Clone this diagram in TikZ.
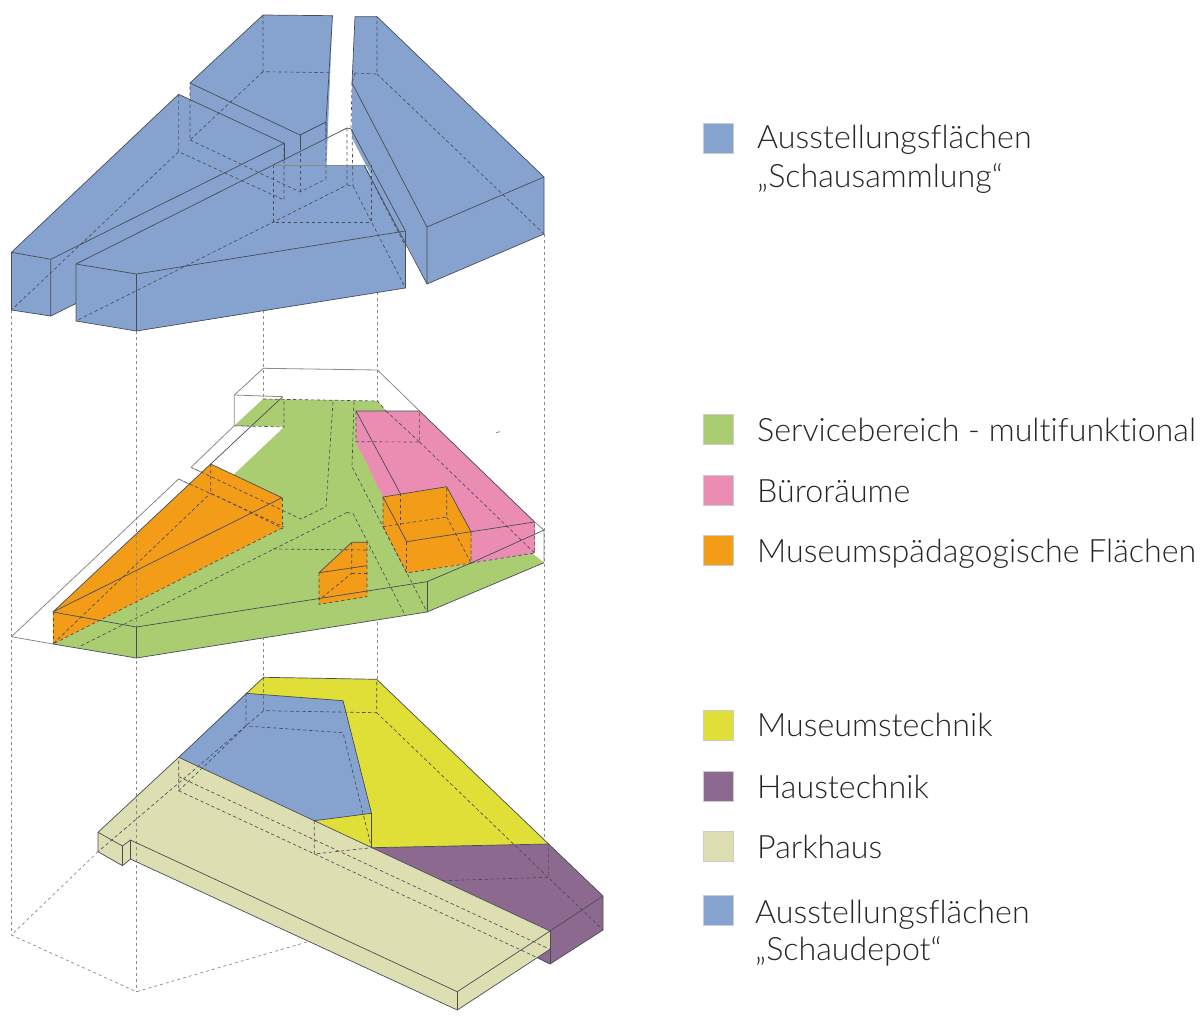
\documentclass[tikz,border=0pt]{standalone}
\usepackage{fontspec}
\setmainfont{Lato}[UprightFont=* Light,Ligatures=NoCommon]
\definecolor{cblue}{HTML}{86A3CF}
\definecolor{cgreen}{HTML}{ABCD72}
\definecolor{cpink}{HTML}{EB8DB3}
\definecolor{corange}{HTML}{F39C18}
\definecolor{cyellow}{HTML}{E0DF37}
\definecolor{cpurple}{HTML}{8C6A90}
\definecolor{cpark}{HTML}{DDDFB3}
\definecolor{cline}{HTML}{484C56}
\definecolor{cgrey}{HTML}{8A8A8A}
\tikzset{
 edgeline/.style={draw=cline,line width=0.7pt,line join=round},
 thinline/.style={draw=cgrey,line width=0.8pt,line join=round},
 hidden/.style={draw=cline,line width=0.65pt,dash pattern=on 3.4pt off 2.6pt},
 guide/.style={draw=cgrey,line width=0.7pt,dash pattern=on 3pt off 3pt},
 swatch/.style={minimum width=30pt,minimum height=30pt,inner sep=0pt,anchor=north west,draw=black!20,line width=0.3pt},
 legendtext/.style={anchor=base west,inner sep=0pt,font=\fontsize{32.2pt}{38pt}\selectfont,text=black!85}
}
\begin{document}
\begin{tikzpicture}[x=1pt,y=-1pt]
\useasboundingbox (0,0) rectangle (1200,1020);
% ---------- guides
\draw[guide] (11.4,310) -- (11.4,935);
\draw[guide] (263,310) -- (263,399) (263,637) -- (263,677);
\draw[guide] (377.5,292) -- (377.5,401) (377.5,610) -- (377.5,679);
\draw[guide] (544,234) -- (544,844);
% ---------- bottom level
\fill[cyellow] (263.6,677.3) -- (376.7,679.3) -- (548.6,844) -- (371.5,847.7) -- (314.2,820.7) -- (246,693.3) -- cycle;
\fill[cblue] (246,693.3) -- (343,700.7) -- (371.5,813.3) -- (314.2,820.7) -- (178.7,757.3) -- cycle;
\fill[cpurple] (371.5,847.7) -- (548.6,844) -- (603,896) -- (603,930) -- (550,964) -- (538,958) -- (550,931) -- cycle;
\fill[cpark] (178.7,757.3) -- (550,931) -- (550,949.3) -- (457.3,1010) -- (130.4,859) -- (122.5,865.7) -- (98,851.7) -- (98,832.3) -- cycle;
\draw[guide] (136.4,331) -- (136.4,991.7);
\draw[guide] (98,851.7) -- (11.4,935) -- (136.4,991.7) -- (308,941.7);
\draw[hidden] (263.6,677.3) -- (263.6,710.7) -- (376.7,712.7) -- (376.7,679.3);
\draw[hidden] (376.7,712.7) -- (603,930);
\draw[hidden] (263.6,710.7) -- (98,851.7);
\draw[hidden] (246,693.3) -- (246,726) -- (343,732.7) -- (371.5,847.7);
\draw[hidden] (246,726) -- (178.7,790.7) -- (178.7,757.3);
\draw[hidden] (178.7,776.7) -- (550,949.3);
\draw[hidden] (178.7,790.7) -- (538,958);
\draw[hidden] (314.2,820.7) -- (314.2,854) -- (371.5,847.7) -- (371.5,813.3);
\draw[hidden] (442.7,880.7) -- (548.6,877.3) -- (548.6,844);
\draw[edgeline] (178.7,757.3) -- (263.6,677.3) -- (376.7,679.3) -- (548.6,844) -- (603,896) -- (603,930) -- (550,964) -- (538,958);
\draw[edgeline] (246,693.3) -- (343,700.7) -- (371.5,813.3) -- (371.5,847.7) -- (548.6,844);
\draw[edgeline] (178.7,757.3) -- (550,931) -- (603,896);
\draw[edgeline] (314.2,820.7) -- (371.5,813.3);
\draw[edgeline] (550,931) -- (550,964);
\draw[edgeline] (178.7,757.3) -- (98,832.3) -- (122.5,846) -- (130.4,840) -- (457.3,991.7) -- (550,931);
\draw[edgeline] (98,832.3) -- (98,851.7) -- (122.5,865.7) -- (122.5,846);
\draw[edgeline] (122.5,865.7) -- (130.4,859) -- (130.4,840);
\draw[edgeline] (130.4,859) -- (457.3,1010) -- (550,949.3);
\draw[edgeline] (457.3,991.7) -- (457.3,1010);
% ---------- middle level
\fill[cgreen] (234.3,425.7) -- (263,399) -- (377.5,401) -- (386,411) -- (383,497) -- (383,527) -- (406.7,573) -- (471,563) -- (532,553) -- (544,562.7) -- (427,612) -- (136.4,658) -- (52.9,644) -- (282,528) -- (282,498) -- (233.3,475) -- (283,428) -- (283,426.7) -- cycle;
\fill[cpink] (356,411) -- (419.6,411) -- (535,522) -- (535,553) -- (471,563) -- (471,532) -- (446.7,487) -- (383,497) -- (356,442) -- cycle;
\fill[corange] (52.9,612) -- (210.7,464) -- (282,497.7) -- (282,528) -- (52.9,644) -- cycle;
\fill[corange] (383,497) -- (446.7,486.7) -- (471,531.7) -- (471,563) -- (406.7,573) -- (383,526.7) -- cycle;
\fill[corange] (351.8,542.3) -- (367,542.3) -- (367,596.7) -- (319,604.3) -- (319,572.7) -- cycle;
\draw[guide] (136.4,331) -- (136.4,658);
% footprint of the floor above
\draw[hidden] (263,399) -- (377.5,401) -- (386,411);
\draw[hidden] (234.3,425.7) -- (284,427) -- (284,399);
\draw[hidden] (333,402) -- (326,506.7) -- (301,519) -- (191,467.3);
\draw[hidden] (354,401.7) -- (352,466.7) -- (427,612);
\draw[hidden] (178.6,479) -- (284,527);
\draw[hidden] (347,512.5) -- (78.6,647);
\draw[hidden] (347,512.5) -- (353,513.5) -- (405,615);
\draw[hidden] (273,549) -- (370,550);
% large orange
\draw[hidden] (52.9,612) -- (52.9,644);
\draw[hidden] (210.7,464) -- (210.7,493) -- (282,528) -- (52.9,644) -- (210.7,493);
\draw[hidden] (282,497.7) -- (282,528);
% orange 2
\draw[hidden] (383,497) -- (383,526.7) -- (406.7,573) -- (471,563) -- (471,531.7);
\draw[hidden] (383,526.7) -- (446.7,517) -- (446.7,486.7);
\draw[hidden] (446.7,517) -- (471,563);
\draw[hidden] (406.7,541.7) -- (406.7,573);
% small orange
\draw[hidden] (351.8,542.3) -- (351.8,573.3) -- (319,600);
\draw[hidden] (351.8,573.3) -- (367,573.3);
\draw[hidden] (319,572.7) -- (319,604.3) -- (367,596.7) -- (367,542.3);
% pink
\draw[hidden] (356,411) -- (356,441.7) -- (419.6,442) -- (419.6,411);
\draw[hidden] (419.6,442) -- (534.6,553);
\draw[hidden] (386,411) -- (419.6,442);
\draw[hidden] (400,493) -- (400,525);
\draw[hidden] (471,563) -- (534.6,553) -- (534.6,522);
% outlines
\draw[thinline] (234.3,425.7) -- (234.3,395) -- (263.3,368.3) -- (377.5,370) -- (419.6,411);
\draw[thinline] (234.3,395) -- (282.7,396.7);
\draw[thinline] (234.3,425.7) -- (250,426);
\draw[thinline] (191,467.3) -- (234.3,425.7);
\draw[thinline] (191,467.3) -- (203,473);
\draw[thinline] (52.9,644) -- (11.4,636.7) -- (178.6,479) -- (190,484.5);
\draw[thinline] (534.6,522) -- (544,530) -- (544,562.7);
\draw[edgeline] (282.7,396.7) -- (210.7,464);
\draw[edgeline] (52.9,612) -- (210.7,464) -- (282,497.7) -- (52.9,612);
\draw[edgeline] (52.9,612) -- (136.4,627) -- (427,581.7) -- (471,563) -- (544,530);
\draw[edgeline] (136.4,627) -- (136.4,658) -- (427,612) -- (544,562.7);
\draw[edgeline] (136.4,658) -- (52.9,644);
\draw[edgeline] (427,581.7) -- (427,612);
\draw[edgeline] (356,411) -- (400,493);
\draw[edgeline] (406.7,541.7) -- (383,497);
\draw[edgeline] (356,411) -- (419.6,411) -- (534.6,522) -- (471,531.7) -- (406.7,541.7);
\draw[edgeline] (383,497) -- (446.7,486.7) -- (471,531.7);
\draw[edgeline] (319,572.7) -- (351.8,542.3) -- (367,542.3);
\draw[edgeline] (319,572.7) -- (367,565.7);
\draw[thinline] (496,432.8) -- (500,431.6);
% ---------- top level
\fill[cblue] (11.4,252.3) -- (178.6,94.3) -- (284,143.3) -- (284,200) -- (50.7,316) -- (11.4,310) -- cycle;
\fill[cblue] (263,15) -- (332.5,15.7) -- (326,179) -- (300,192) -- (190,140) -- (190,83) -- cycle;
\fill[cblue] (355,16.7) -- (377,16.7) -- (544,177) -- (544,234) -- (427,284) -- (352,138) -- (352,83) -- cycle;
\fill[cblue] (76,264) -- (273,165) -- (364,165) -- (405.4,231) -- (405.4,288) -- (136.4,331) -- (76,321) -- cycle;
\draw[hidden] (178.6,94.3) -- (178.6,151.7) -- (284,200) -- (284,143.3);
\draw[hidden] (178.6,151.7) -- (11.4,310);
\draw[hidden] (263,15) -- (263,71.7) -- (330,72.7);
\draw[hidden] (263,71.7) -- (190,140) -- (190,83);
\draw[hidden] (190,140) -- (300,192) -- (326,179) -- (326,122);
\draw[hidden] (300,135) -- (300,192);
\draw[hidden] (355,73) -- (377,74) -- (377,16.7);
\draw[hidden] (355,73) -- (352,83);
\draw[hidden] (377,74) -- (544,234);
\draw[hidden] (352,83) -- (351,129);
\draw[hidden] (273,165) -- (273,222) -- (371,222) -- (371,165);
\draw[hidden] (347,128) -- (347,185) -- (76,321);
\draw[hidden] (347,185) -- (353,186) -- (405.4,288);
\draw[hidden] (352,130) -- (353,186);
\draw[hidden] (364,165) -- (405.4,246);
\draw[edgeline] (11.4,252.3) -- (178.6,94.3) -- (284,143.3) -- (50.7,259.3) -- cycle;
\draw[edgeline] (284,143.3) -- (284,160);
\draw[edgeline] (11.4,252.3) -- (11.4,310) -- (50.7,316) -- (50.7,259.3);
\draw[edgeline] (50.7,316) -- (76,303.5);
\draw[edgeline] (190,83) -- (263,15) -- (332.5,15.7) -- (326,122) -- (326,138);
\draw[edgeline] (190,83) -- (300,135) -- (326,122);
\draw[edgeline] (300,135) -- (300,150);
\draw[edgeline] (352,83) -- (355,16.7) -- (377,16.7) -- (544,177) -- (427,227) -- (352,83);
\draw[edgeline] (427,227) -- (427,284) -- (544,234) -- (544,177);
\draw[edgeline] (427,284) -- (364,165);
\draw[edgeline] (76,264) -- (347,128) -- (351,129) -- (405.4,231) -- (136.4,274) -- (76,264) -- (76,321) -- (136.4,331) -- (405.4,288) -- (405.4,231);
\draw[edgeline] (136.4,274) -- (136.4,331);
\draw[thinline] (273,165) -- (371,165);
% ---------- legend
\node[swatch,fill=cblue]    (s1) at (703,123) {};
\node[swatch,fill=cgreen]   (s2) at (703,414) {};
\node[swatch,fill=cpink]    (s3) at (703,475) {};
\node[swatch,fill=corange]  (s4) at (703,535) {};
\node[swatch,fill=cyellow]  (s5) at (703,710) {};
\node[swatch,fill=cpurple]  (s6) at (703,771) {};
\node[swatch,fill=cpark]    (s7) at (703,831) {};
\node[swatch,fill=cblue]    (s8) at (703,895) {};
\node[legendtext] (t1a) at (757,148) {Ausstellungsflächen};
\node[legendtext] (t1b) at (757,187) {„Schausammlung“};
\node[legendtext] (t2) at (757,441) {Servicebereich - multifunktional};
\node[legendtext] (t3) at (757,502) {Büroräume};
\node[legendtext] (t4) at (757,562) {Museumspädagogische Flächen};
\node[legendtext] (t5) at (757,736) {Museumstechnik};
\node[legendtext] (t6) at (757,798) {Haustechnik};
\node[legendtext] (t7) at (757,858) {Parkhaus};
\node[legendtext] (t8a) at (755,923) {Ausstellungsflächen};
\node[legendtext] (t8b) at (755,960) {„Schaudepot“};
\end{tikzpicture}
\end{document}
